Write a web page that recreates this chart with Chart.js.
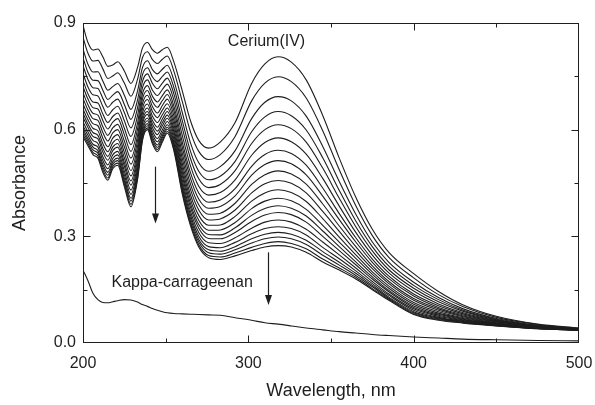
<!DOCTYPE html>
<html>
<head>
<meta charset="utf-8">
<script src="https://cdn.jsdelivr.net/npm/chart.js@4.4.1/dist/chart.umd.min.js"></script>
<style>
  body { margin: 0; background: #fff; }
</style>
</head>
<body>
<canvas id="myChart" width="595" height="405"></canvas>
<script>
// wavelength grid (nm) shared by every spectrum
const wavelengths = [200, 203, 206, 209, 212, 215, 218, 221, 225, 229, 233, 236, 239, 242, 245, 248, 251, 255, 260, 265,
  270, 276, 283, 292, 302, 310, 318, 326, 335, 345, 355, 365, 375, 385, 400, 415, 430, 450, 475, 500];

// Cerium(IV) spectra, first scan on top, absorbance
const scan1  = [.893,.845,.824,.827,.805,.778,.782,.791,.765,.730,.775,.830,.845,.825,.815,.825,.832,.790,.710,.625,.570,.548,.565,.620,.730,.785,.805,.790,.740,.640,.520,.410,.320,.255,.195,.145,.107,.075,.053,.042];
const scan2  = [.860,.815,.793,.795,.771,.744,.751,.760,.731,.694,.742,.803,.819,.797,.786,.798,.807,.764,.680,.594,.539,.516,.530,.581,.681,.731,.749,.735,.689,.597,.487,.386,.302,.241,.183,.136,.102,.072,.052,.041];
const scan3  = [.827,.784,.762,.763,.737,.711,.721,.730,.697,.657,.709,.775,.794,.769,.757,.770,.781,.738,.649,.563,.507,.483,.496,.541,.631,.677,.693,.681,.638,.553,.454,.362,.284,.227,.171,.128,.096,.069,.050,.041];
const scan4  = [.802,.761,.739,.738,.711,.685,.697,.707,.671,.629,.684,.755,.774,.748,.735,.750,.762,.718,.626,.539,.483,.459,.469,.511,.594,.636,.651,.639,.599,.521,.429,.343,.271,.216,.162,.122,.092,.067,.049,.040];
const scan5  = [.780,.741,.718,.716,.688,.663,.677,.686,.648,.605,.662,.736,.757,.730,.715,.731,.745,.700,.606,.519,.462,.437,.446,.485,.561,.600,.614,.603,.565,.492,.407,.327,.259,.206,.154,.116,.089,.065,.048,.040];
const scan6  = [.758,.720,.698,.695,.665,.640,.656,.666,.625,.581,.640,.718,.740,.711,.696,.713,.728,.683,.585,.498,.441,.416,.423,.459,.528,.564,.577,.566,.531,.463,.385,.311,.247,.197,.146,.110,.085,.063,.047,.039];
const scan7  = [.738,.701,.678,.675,.644,.620,.637,.647,.604,.558,.619,.701,.724,.694,.678,.696,.712,.666,.566,.479,.422,.396,.402,.434,.497,.530,.542,.533,.500,.436,.364,.296,.236,.188,.138,.105,.082,.062,.047,.039];
const scan8  = [.721,.686,.662,.658,.626,.602,.621,.631,.586,.539,.602,.687,.710,.679,.663,.682,.699,.653,.551,.463,.405,.379,.384,.414,.472,.502,.513,.504,.473,.413,.347,.284,.227,.181,.132,.100,.079,.060,.046,.039];
const scan9  = [.704,.670,.646,.641,.608,.584,.605,.615,.568,.520,.584,.673,.697,.665,.647,.668,.686,.639,.535,.447,.389,.362,.365,.393,.446,.473,.484,.475,.447,.391,.329,.271,.217,.173,.125,.096,.076,.059,.045,.038];
const scan10 = [.688,.655,.631,.626,.592,.568,.591,.600,.552,.503,.569,.660,.685,.651,.634,.655,.673,.626,.520,.432,.374,.346,.349,.374,.422,.448,.457,.449,.422,.370,.314,.259,.209,.167,.120,.092,.074,.057,.044,.038];
const scan11 = [.672,.641,.617,.611,.576,.552,.576,.586,.536,.485,.553,.647,.672,.638,.620,.642,.661,.614,.506,.417,.359,.331,.332,.356,.399,.422,.431,.423,.398,.350,.298,.248,.200,.160,.114,.088,.071,.056,.044,.038];
const scan12 = [.658,.628,.604,.597,.561,.538,.563,.573,.521,.470,.539,.635,.661,.626,.607,.630,.651,.603,.493,.404,.345,.317,.318,.339,.378,.399,.407,.400,.376,.331,.284,.238,.193,.154,.109,.084,.069,.055,.043,.038];
const scan13 = [.646,.616,.592,.584,.548,.525,.551,.561,.508,.456,.526,.625,.651,.616,.596,.620,.641,.593,.481,.392,.333,.305,.304,.324,.359,.378,.386,.379,.357,.315,.271,.228,.186,.148,.104,.081,.067,.054,.043,.037];
const scan14 = [.635,.606,.581,.574,.537,.514,.541,.551,.497,.444,.515,.616,.643,.606,.586,.611,.632,.584,.471,.382,.323,.294,.293,.311,.342,.360,.367,.361,.340,.300,.260,.220,.180,.144,.100,.078,.065,.053,.042,.037];
const scan15 = [.622,.594,.570,.561,.524,.501,.529,.539,.484,.430,.503,.605,.633,.596,.575,.600,.623,.574,.459,.370,.311,.282,.280,.296,.323,.340,.346,.340,.320,.284,.248,.211,.173,.138,.096,.075,.063,.052,.042,.037];
const scan16 = [.611,.584,.559,.551,.513,.490,.519,.529,.473,.418,.492,.596,.625,.587,.566,.591,.614,.565,.449,.360,.300,.271,.268,.283,.307,.322,.327,.322,.304,.269,.237,.203,.167,.134,.092,.072,.061,.051,.041,.037];
const scan17 = [.602,.575,.551,.541,.503,.480,.510,.520,.463,.407,.482,.588,.617,.579,.557,.583,.607,.558,.440,.351,.291,.262,.258,.271,.293,.306,.311,.306,.289,.257,.227,.196,.162,.129,.088,.070,.060,.050,.041,.036];
const scan18 = [.594,.568,.543,.534,.495,.472,.503,.513,.455,.399,.474,.582,.611,.572,.550,.577,.601,.551,.433,.343,.284,.254,.250,.262,.281,.293,.298,.293,.277,.247,.219,.190,.158,.126,.085,.068,.058,.049,.041,.036];
const scan19 = [.586,.561,.536,.526,.487,.464,.496,.506,.447,.390,.466,.575,.605,.565,.544,.570,.595,.545,.426,.336,.276,.246,.242,.253,.269,.280,.285,.280,.265,.236,.211,.185,.153,.123,.082,.066,.057,.049,.040,.036];
const scan20 = [.580,.555,.530,.520,.480,.458,.490,.500,.440,.383,.460,.570,.600,.560,.538,.565,.590,.540,.420,.330,.270,.240,.235,.245,.260,.270,.274,.270,.255,.228,.205,.180,.150,.120,.080,.064,.056,.048,.040,.036];

// polysaccharide alone
const kappa = [.205,.175,.140,.122,.114,.113,.116,.119,.122,.121,.115,.108,.103,.097,.092,.088,.085,.083,.082,.081,
  .080,.079,.078,.071,.064,.057,.053,.048,.042,.037,.032,.028,.024,.021,.017,.014,.011,.009,.007,.006];

const xMajor = [300, 400];
const xMinor = [250, 350, 450];
const yMajor = [0.3, 0.6];
const yMinor = [0.15, 0.45, 0.75];

const ceriumScans = [scan1, scan2, scan3, scan4, scan5, scan6, scan7, scan8, scan9, scan10,
  scan11, scan12, scan13, scan14, scan15, scan16, scan17, scan18, scan19, scan20];

const FONT = "'Liberation Sans', Arial, Helvetica, sans-serif";
const INK = '#1e1e1e';

function toPoints(vals) {
  return wavelengths.map((w, i) => ({ x: w, y: vals[i] }));
}

const lineStyle = {
  borderColor: INK,
  borderWidth: 1.1,
  pointRadius: 0,
  fill: false,
  cubicInterpolationMode: 'monotone'
};

const datasets = ceriumScans.map((s, i) => Object.assign({ label: 'scan ' + (i + 1), data: toPoints(s) }, lineStyle));
datasets.push(Object.assign({ label: 'Kappa-carrageenan', data: toPoints(kappa) }, lineStyle));

// box, inward ticks, labels and arrows
const decorations = {
  id: 'decorations',
  afterDatasetsDraw(chart) {
    const { ctx, chartArea: a, scales: { x, y } } = chart;
    const L = Math.round(a.left) + 0.5, R = Math.round(a.right) - 0.5;
    const T = Math.round(a.top) + 0.5, B = Math.round(a.bottom) - 0.5;
    ctx.save();
    ctx.strokeStyle = INK;
    ctx.lineWidth = 1;
    ctx.strokeRect(L, T, R - L, B - T);

    ctx.beginPath();
    const xt = (v, len) => {
      const px = Math.round(x.getPixelForValue(v)) + 0.5;
      ctx.moveTo(px, B); ctx.lineTo(px, B - len);
      ctx.moveTo(px, T); ctx.lineTo(px, T + len);
    };
    const yt = (v, len) => {
      const py = Math.round(y.getPixelForValue(v)) + 0.5;
      ctx.moveTo(L, py); ctx.lineTo(L + len, py);
      ctx.moveTo(R, py); ctx.lineTo(R - len, py);
    };
    xMajor.forEach(v => xt(v, 7));
    xMinor.forEach(v => xt(v, 4));
    yMajor.forEach(v => yt(v, 7));
    yMinor.forEach(v => yt(v, 4));
    ctx.stroke();

    // arrows
    const arrow = (wl, a0, a1) => {
      const px = Math.round(x.getPixelForValue(wl)) + 0.5;
      const y0 = y.getPixelForValue(a0), y1 = y.getPixelForValue(a1);
      ctx.beginPath();
      ctx.moveTo(px, y0); ctx.lineTo(px, y1 - 6);
      ctx.lineWidth = 1.2;
      ctx.stroke();
      ctx.beginPath();
      ctx.moveTo(px, y1);
      ctx.lineTo(px - 3.5, y1 - 10);
      ctx.lineTo(px + 3.5, y1 - 10);
      ctx.closePath();
      ctx.fillStyle = INK;
      ctx.fill();
    };
    arrow(243.6, 0.496, 0.336);
    arrow(312, 0.255, 0.107);

    ctx.fillStyle = INK;
    ctx.font = '16px ' + FONT;
    ctx.textAlign = 'center';
    ctx.textBaseline = 'middle';
    ctx.fillText('Cerium(IV)', x.getPixelForValue(311), y.getPixelForValue(0.847));
    ctx.fillText('Kappa-carrageenan', x.getPixelForValue(260), y.getPixelForValue(0.169));
    ctx.restore();
  }
};

const ctx = document.getElementById('myChart').getContext('2d');

new Chart(ctx, {
  type: 'line',
  data: { datasets: datasets },
  options: {
    responsive: false,
    animation: false,
    devicePixelRatio: 1,
    layout: { padding: { top: 23, right: 16, bottom: 0, left: 0 } },
    plugins: {
      legend: { display: false },
      tooltip: { enabled: false }
    },
    scales: {
      x: {
        type: 'linear',
        min: 200,
        max: 500,
        afterFit(scale) {
          scale.height = 62;
          scale.paddingLeft = 0;
          scale.paddingRight = 0;
        },
        grid: { display: false, drawTicks: false, tickLength: 0 },
        border: { display: false },
        ticks: {
          stepSize: 100,
          padding: 11,
          color: INK,
          font: { family: FONT, size: 16 },
          maxRotation: 0
        },
        title: {
          display: true,
          text: 'Wavelength, nm',
          color: INK,
          font: { family: FONT, size: 18 },
          padding: { top: 0, bottom: 3 }
        }
      },
      y: {
        min: 0,
        max: 0.9,
        afterFit(scale) {
          scale.width = 83;
          scale.paddingTop = 0;
          scale.paddingBottom = 0;
        },
        grid: { display: false, drawTicks: false, tickLength: 0 },
        border: { display: false },
        ticks: {
          stepSize: 0.3,
          padding: 7,
          color: INK,
          font: { family: FONT, size: 16 },
          callback: v => v.toFixed(1)
        },
        title: {
          display: true,
          text: 'Absorbance',
          color: INK,
          font: { family: FONT, size: 18 },
          padding: { top: 9, bottom: 0 }
        }
      }
    }
  },
  plugins: [decorations]
});
</script>
</body>
</html>
